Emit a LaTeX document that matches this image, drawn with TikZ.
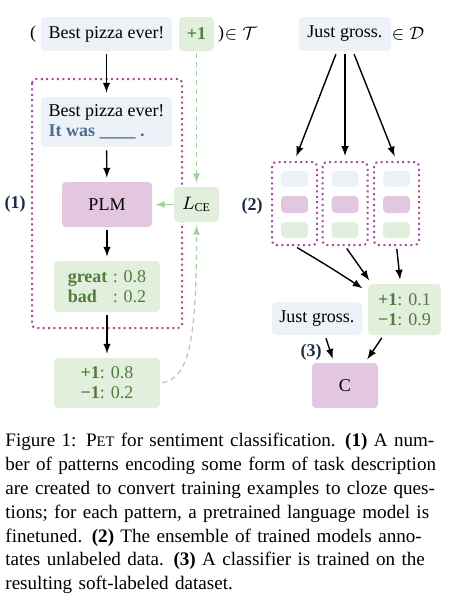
\documentclass[tikz,border=0pt]{standalone}
\usepackage{amsmath}
\usepackage{amssymb}
\usepackage{fontspec}
\setmainfont{Liberation Serif}
\usetikzlibrary{arrows,calc,positioning}

\definecolor{boxblue}{HTML}{EDF2F8}
\definecolor{boxgreen}{HTML}{E2EFDD}
\definecolor{boxpink}{HTML}{E3C6DF}
\definecolor{dotpurple}{HTML}{A24E9C}
\definecolor{txtgreen}{HTML}{4F7D3C}
\definecolor{txtblue}{HTML}{4A6D92}
\definecolor{arrgreen}{HTML}{9ED49A}
\definecolor{labnavy}{HTML}{1B2A48}

\tikzset{
	box/.style={rounded corners=2pt,inner sep=0pt,align=center},
	bluebox/.style={box,fill=boxblue},
	greenbox/.style={box,fill=boxgreen,text=txtgreen},
	pinkbox/.style={box,fill=boxpink},
	frame/.style={draw=dotpurple,line width=1pt,dash pattern=on 1pt off 1.7pt,rounded corners=2pt,inner sep=0pt},
	arr/.style={-latex,line width=0.7pt,shorten <=1.5pt,shorten >=2pt},
	garr/.style={-latex,draw=arrgreen,line width=0.6pt},
	steplabel/.style={font=\fontsize{9}{10}\selectfont\bfseries,text=labnavy}
}

\begin{document}
\begin{tikzpicture}[x=0.5pt,y=-0.5pt,font=\fontsize{9}{10}\selectfont]
	\useasboundingbox (0,0) rectangle (449,601);
	% training example
	\node (lpar) at (33,34) {(};
	\node[bluebox,minimum width=65.5pt,minimum height=17pt] (ex) at (106.5,34) {Best pizza ever!};
	\node[greenbox,minimum width=17.5pt,minimum height=17pt] (plus) at (196.5,34) {\textbf{+1}};
	\node (rpar) at (221,34) {)};
	\node (inT) at (241,34) {$\in\mathcal{T}$};
	% (1) pattern, PLM, verbalizer
	\draw[frame] (32,79) rectangle (182,328);
	\node[bluebox,align=left,minimum width=65.5pt,minimum height=25pt] (pat) at (106.5,122) {Best pizza ever!\\\textcolor{txtblue}{\textbf{It was \_\_\_\_ .}}};
	\node[pinkbox,minimum width=45pt,minimum height=22.5pt] (plm) at (107,204.5) {PLM};
	\node[greenbox,text=black,minimum width=22.5pt,minimum height=17.5pt] (lce) at (196.5,204.5) {$L_{\mathrm{CE}}$};
	\node[greenbox,align=left,minimum width=53pt,minimum height=25.5pt] (verb) at (107,286.5) {\makebox[22.5pt][l]{\textbf{great}}: 0.8\\\makebox[22.5pt][l]{\textbf{bad}}: 0.2};
	\node[greenbox,align=left,minimum width=53pt,minimum height=25pt] (out) at (107,383) {\textbf{+1}: 0.8\\\textbf{−1}: 0.2};
	\node[steplabel] (lab1) at (15,204) {(1)};
	\draw[arr] (ex) -- (pat);
	\draw[arr] (pat) -- (plm);
	\draw[arr] (plm) -- (verb);
	\draw[arr] (verb) -- (out);
	\draw[garr,dashed,dash pattern=on 2.5pt off 2pt,shorten <=1pt,shorten >=2pt] (plus) -- (lce);
	\draw[garr,shorten >=1.5pt] (lce) -- (plm);
	\draw[garr,dashed,dash pattern=on 2.5pt off 2pt,shorten <=1pt,shorten >=1.5pt] (out.east) .. controls (188,378) and (196.5,345) .. (lce.south);
	% unlabeled example
	\node[bluebox,minimum width=46pt,minimum height=17pt] (just) at (345,34) {Just gross.};
	\node (inD) at (408,34) {$\in\mathcal{D}$};
	% (2) ensemble
	\foreach \f/\x in {f1/294.5,f2/345,f3/396.5} {
		\node[frame,minimum width=22.5pt,minimum height=41.5pt] (\f) at (\x,203.5) {};
		\node[bluebox,minimum width=13.5pt,minimum height=8pt] (\f a) at (\x,179) {};
		\node[pinkbox,minimum width=13.5pt,minimum height=8.5pt] (\f b) at (\x,204.5) {};
		\node[greenbox,minimum width=13.5pt,minimum height=8pt] (\f c) at (\x,230) {};
	}
	\node[steplabel] (lab2) at (252,206) {(2)};
	\draw[arr,shorten >=2.5pt] ($(just.south)+(-8,0)$) -- (f1.north);
	\draw[arr,shorten >=2.5pt] (just.south) -- (f2.north);
	\draw[arr,shorten >=2.5pt] ($(just.south)+(8,0)$) -- (f3.north);
	\node[greenbox,align=left,minimum width=36.5pt,minimum height=25.5pt] (soft) at (404.5,309.5) {\textbf{+1}: 0.1\\\textbf{−1}: 0.9};
	\draw[arr,shorten >=3pt] (f1.south) .. controls (328,266) .. ($(soft.west)+(0,-18)$);
	\draw[arr] (f2.south) -- ($(soft.north west)+(4,0)$);
	\draw[arr] (f3.south) -- ($(soft.north)+(-4,0)$);
	% (3) classifier
	\node[bluebox,minimum width=45pt,minimum height=16.5pt] (just2) at (317,318.5) {Just gross.};
	\node[pinkbox,minimum width=33pt,minimum height=22.5pt] (cls) at (345,385.5) {C};
	\node[steplabel] (lab3) at (311,352) {(3)};
	\draw[arr] ($(just2.south)+(8,0)$) -- ($(cls.north)+(-11,0)$);
	\draw[arr] ($(soft.south)+(-21,0)$) -- ($(cls.north)+(20,0)$);
	% caption
	\node[anchor=north west,inner sep=0pt,text width=219pt,align=left,font=\fontsize{9.55}{11.9}\selectfont] (cap) at (5,433) {%
		\makebox[219pt][s]{Figure 1: P{\fontsize{7.3}{9}\selectfont ET} for sentiment classification. \textbf{(1)} A num-}\\
		\makebox[219pt][s]{ber of patterns encoding some form of task description}\\
		\makebox[219pt][s]{are created to convert training examples to cloze ques-}\\
		\makebox[219pt][s]{tions; for each pattern, a pretrained language model is}\\
		\makebox[219pt][s]{finetuned. \textbf{(2)} The ensemble of trained models anno-}\\
		\makebox[219pt][s]{tates unlabeled data. \textbf{(3)} A classifier is trained on the}\\
		resulting soft-labeled dataset.};
\end{tikzpicture}
\end{document}
